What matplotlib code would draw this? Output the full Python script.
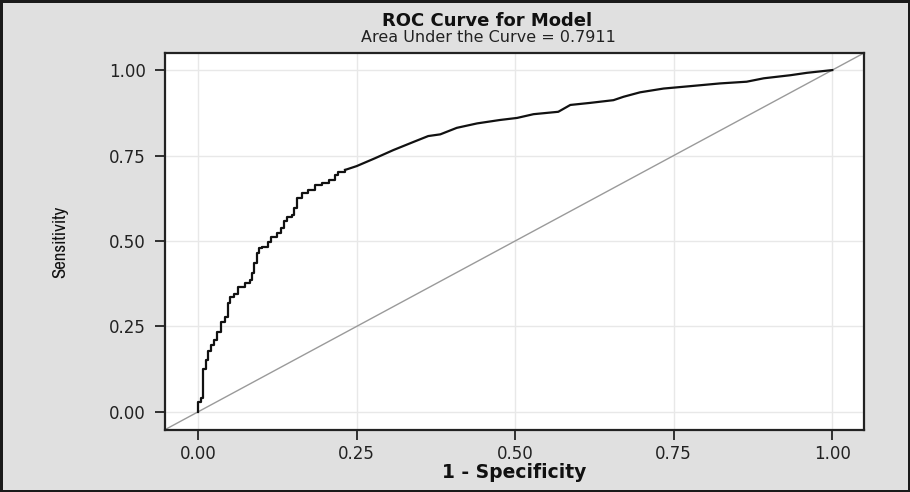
import matplotlib
matplotlib.use("Agg")
import matplotlib.pyplot as plt

# ROC curve data (1 - specificity, sensitivity)
fpr = [0.000, 0.000, 0.005, 0.008, 0.012, 0.016, 0.0205, 0.026, 0.030, 0.036,
       0.0426, 0.047, 0.050, 0.056, 0.063, 0.074, 0.082, 0.085, 0.088, 0.0926,
       0.096, 0.101, 0.110, 0.115, 0.124, 0.131, 0.135, 0.140, 0.148, 0.152,
       0.156, 0.164, 0.174, 0.185, 0.195, 0.206, 0.216, 0.220, 0.232, 0.250,
       0.279, 0.308, 0.340, 0.363, 0.382, 0.408, 0.440, 0.476, 0.503, 0.529,
       0.568, 0.587, 0.618, 0.655, 0.671, 0.697, 0.734, 0.776, 0.823, 0.865,
       0.892, 0.934, 0.960, 1.000]
tpr = [0.000, 0.028, 0.040, 0.126, 0.152, 0.178, 0.196, 0.209, 0.235, 0.264,
       0.279, 0.318, 0.337, 0.345, 0.365, 0.376, 0.386, 0.405, 0.435, 0.464,
       0.479, 0.483, 0.498, 0.511, 0.522, 0.537, 0.559, 0.571, 0.576, 0.596,
       0.625, 0.639, 0.649, 0.664, 0.669, 0.678, 0.693, 0.703, 0.708, 0.719,
       0.742, 0.766, 0.790, 0.807, 0.812, 0.831, 0.844, 0.854, 0.860, 0.871,
       0.878, 0.898, 0.904, 0.912, 0.922, 0.935, 0.946, 0.953, 0.961, 0.966,
       0.976, 0.985, 0.992, 1.000]
n_step = 39  # first points form a visible staircase, the rest a fine jagged line
auc_value = 0.7911
ticks = [0.00, 0.25, 0.50, 0.75, 1.00]
tick_labels = ["0.00", "0.25", "0.50", "0.75", "1.00"]

WIDE = ["DejaVu Sans"]
NARROW = ["Archivo Narrow", "DejaVu Sans"]

W, H = 910, 492
fig = plt.figure(figsize=(W / 100, H / 100), dpi=100)
fig.patch.set_facecolor("#e0e0e0")
fig.patch.set_edgecolor("#1a1a1a")
fig.patch.set_linewidth(2.5)

ax = fig.add_axes([165 / W, 1 - 430 / H, (864 - 165) / W, (430 - 53) / H])
ax.set_facecolor("white")

ax.set_xlim(-0.052, 1.050)
ax.set_ylim(-0.053, 1.050)
ax.set_xticks(ticks)
ax.set_yticks(ticks)
ax.set_xticklabels(tick_labels, family=WIDE, fontsize=12, color="#222222")
ax.set_yticklabels(tick_labels, family=WIDE, fontsize=12, color="#222222")
ax.tick_params(axis="both", direction="out", length=7, width=1.3, color="#222222")
ax.tick_params(axis="x", pad=4)
ax.tick_params(axis="y", pad=7)
ax.grid(True, color="#e8e8e8", linewidth=1.0)
ax.set_axisbelow(True)
for s in ax.spines.values():
    s.set_color("#222222")
    s.set_linewidth(1.6)

ax.axline((0, 0), (1, 1), color="#9a9a9a", linewidth=1.0, zorder=2)
ax.plot(fpr[:n_step], tpr[:n_step], drawstyle="steps-post", color="#111111",
        linewidth=1.6, zorder=3)
ax.plot(fpr[n_step - 1:], tpr[n_step - 1:], color="#111111", linewidth=1.6, zorder=3)

ax.set_xlabel("1 - Specificity", family=WIDE, fontweight="bold",
              fontsize=13.5, color="#111111")
ax.xaxis.set_label_coords(0.5, -0.088)
ax.set_ylabel("Sensitivity", family=NARROW, fontsize=13.5, color="#111111")
ax.yaxis.set_label_coords(-0.138, 0.5)

fig.text(487 / W, 1 - 26.5 / H, "ROC Curve for Model", family=WIDE,
         fontweight="bold", fontsize=13, ha="center", va="baseline", color="#111111")
fig.text(488 / W, 1 - 42 / H, f"Area Under the Curve = {auc_value:.4f}",
         family=WIDE, fontsize=11.5, ha="center", va="baseline", color="#222222")

fig.savefig("out.png", dpi=100, facecolor=fig.get_facecolor(), edgecolor=fig.get_edgecolor())
